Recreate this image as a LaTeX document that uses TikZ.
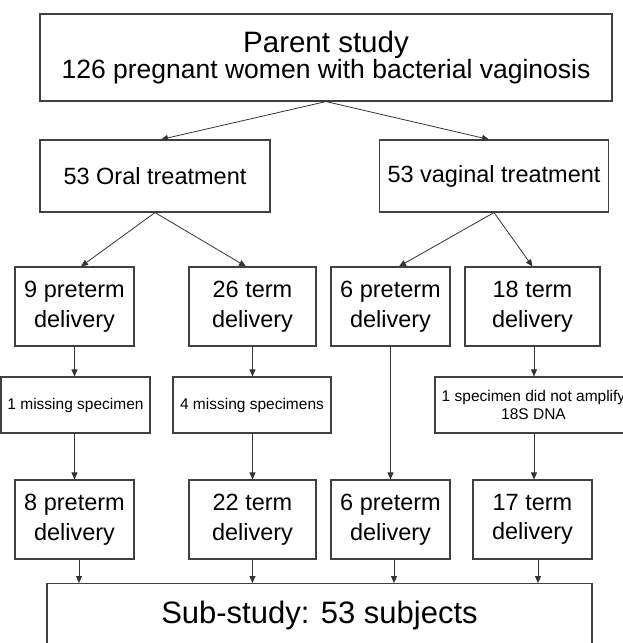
\documentclass[tikz,border=0pt]{standalone}
\usepackage{fontspec}
\setmainfont{Liberation Sans}
\usetikzlibrary{arrows.meta}
\begin{document}
\begin{tikzpicture}[x=1pt,y=-1pt,
  box/.style={draw=black!75, line width=1.1pt, fill=white, inner sep=0pt, align=center, text=black},
  midtext/.style={font=\fontsize{23.5}{29.5}\selectfont},
  smalltext/.style={font=\fontsize{15.5}{18.5}\selectfont},
  arr/.style={draw=black!80, line width=0.8pt, -{Triangle[length=7pt,width=6pt]}}
]
\useasboundingbox (0,0) rectangle (623,643);
\node[box, minimum width=572pt, minimum height=87pt] (top) at (326,57.5)
  {\fontsize{29.5}{35}\selectfont Parent study\\\fontsize{26.5}{38}\selectfont 126 pregnant women with bacterial vaginosis};
\node[box, midtext, minimum width=230pt, minimum height=72pt] (oral) at (155,176) {53 Oral treatment};
\node[box, midtext, minimum width=229pt, minimum height=72pt] (vag) at (494,176) {53 vaginal treatment};
% row 3
\node[box, midtext, minimum width=119pt, minimum height=79pt] (p9) at (74.5,306.5) {9 preterm\\delivery};
\node[box, midtext, minimum width=127pt, minimum height=79pt] (t26) at (252.5,306.5) {26 term\\delivery};
\node[box, midtext, minimum width=119pt, minimum height=79pt] (p6) at (390.5,306.5) {6 preterm\\delivery};
\node[box, midtext, minimum width=135pt, minimum height=79pt] (t18) at (532.5,306.5) {18 term\\delivery};
% row 4
\node[box, smalltext, minimum width=149pt, minimum height=56pt] (m1) at (75.5,405) {1 missing specimen};
\node[box, smalltext, minimum width=158pt, minimum height=56pt] (m4) at (252,405) {4 missing specimens};
\node[box, smalltext, minimum width=197pt, minimum height=56pt] (na) at (533.5,405) {1 specimen did not amplify\\18S DNA};
% row 5
\node[box, midtext, minimum width=119pt, minimum height=79pt] (p8) at (74.5,519.5) {8 preterm\\delivery};
\node[box, midtext, minimum width=127pt, minimum height=79pt] (t22) at (252.5,519.5) {22 term\\delivery};
\node[box, midtext, minimum width=119pt, minimum height=79pt] (p6b) at (390.5,519.5) {6 preterm\\delivery};
\node[box, midtext, minimum width=119pt, minimum height=79pt] (t17) at (532.5,519.5) {17 term\\delivery};
% bottom
\node[box, minimum width=545pt, minimum height=64pt, anchor=north, font=\fontsize{31}{36}\selectfont] (sub) at (319.5,583)
  {Sub-study: 53 subjects};
% arrows
\draw[arr] (top.south) -- ([xshift=6pt]oral.north);
\draw[arr] (top.south) -- ([xshift=-5pt]vag.north);
\draw[arr] (oral.south) -- ([xshift=6.5pt]p9.north);
\draw[arr] (oral.south) -- ([xshift=-6.5pt]t26.north);
\draw[arr] (vag.south) -- ([xshift=8.5pt]p6.north);
\draw[arr] (vag.south) -- (t18.north);
\draw[arr] (p9.south) -- (p9.south |- m1.north);
\draw[arr] (t26.south) -- (t26.south |- m4.north);
\draw[arr] (p6.south) -- (p6b.north);
\draw[arr] ([xshift=1.5pt]t18.south) -- ([xshift=1.5pt]t18.south |- na.north);
\draw[arr] (m1.south -| p9.south) -- (p9.south |- p8.north);
\draw[arr] (m4.south -| t26.south) -- (t26.south |- t22.north);
\draw[arr] ([xshift=1.5pt]na.south -| t18.south) -- ([xshift=1.5pt]t18.south |- t17.north);
\draw[arr] ([xshift=4.5pt]p8.south) -- ([xshift=4.5pt]p8.south |- sub.north);
\draw[arr] (t22.south) -- (t22.south |- sub.north);
\draw[arr] ([xshift=3.5pt]p6b.south) -- ([xshift=3.5pt]p6b.south |- sub.north);
\draw[arr] ([xshift=5.5pt]t17.south) -- ([xshift=5.5pt]t17.south |- sub.north);
\end{tikzpicture}
\end{document}
